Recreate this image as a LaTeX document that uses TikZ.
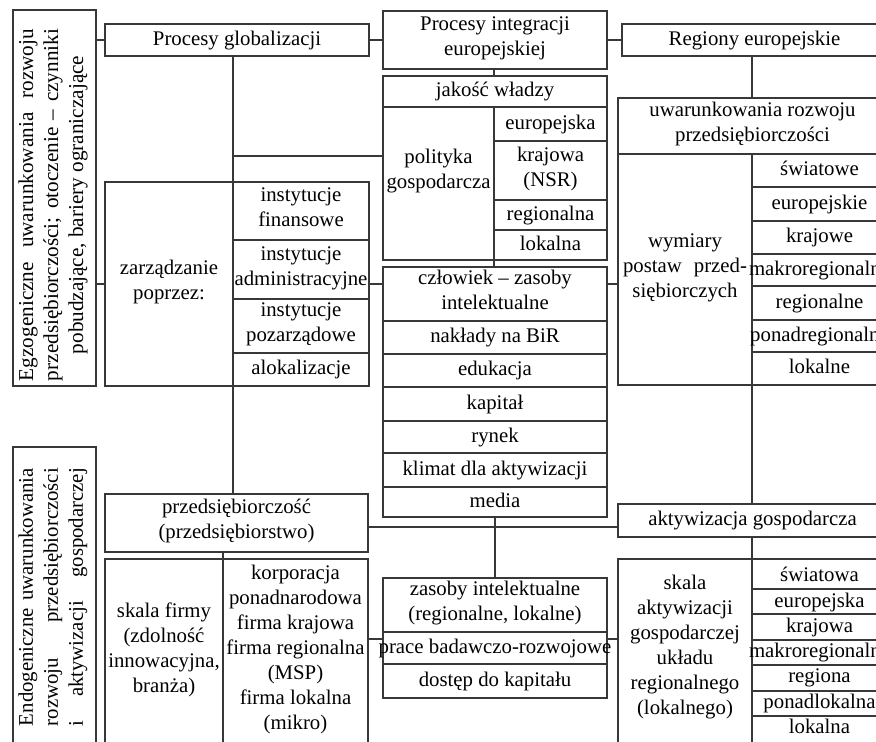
\documentclass[tikz,border=0pt]{standalone}
\usepackage{fontspec}
\setmainfont{Liberation Serif}
\usetikzlibrary{fit}
\newcommand\fs{\fontsize{20.8}{25}\selectfont}
\newcommand\fsr{\fontsize{21.2}{25}\selectfont}
\newcommand\cellbox[5]{\node[cell, fit={(#2,#3) (#4,#5)}] (#1) {};}
\tikzset{
 cell/.style={draw=black!78, line width=1.1pt, inner sep=0pt, outer sep=0pt},
 txt/.style={align=center, font=\fs, inner sep=0pt, text=black,
   execute at begin node=\strut, execute at end node=\strut},
 rtxt/.style={txt, rotate=90},
 con/.style={draw=black!78, line width=1.1pt},
}
\begin{document}
\begin{tikzpicture}[x=1pt,y=-1pt]
\useasboundingbox (0,0) rectangle (876,742);
\clip (0,0) rectangle (876,742);
% ---------- cells
\cellbox{egz}{13}{10}{96}{386}
\cellbox{glob}{105}{24}{369}{56}
\cellbox{integ}{383}{11}{607}{69}
\cellbox{reg}{622}{24}{887}{56}
\cellbox{jak}{383}{76}{607}{107}
\cellbox{pol}{383}{107}{494}{260}
\cellbox{polA}{494}{107}{607}{141}
\cellbox{polB}{494}{141}{607}{200}
\cellbox{polC}{494}{200}{607}{230}
\cellbox{polD}{494}{230}{607}{260}
\cellbox{uwar}{618}{98}{887}{154}
\cellbox{wym}{618}{154}{752}{385}
\cellbox{wymA}{752}{154}{887}{187}
\cellbox{wymB}{752}{187}{887}{221}
\cellbox{wymC}{752}{221}{887}{254}
\cellbox{wymD}{752}{254}{887}{286}
\cellbox{wymE}{752}{286}{887}{320}
\cellbox{wymF}{752}{320}{887}{352}
\cellbox{wymG}{752}{352}{887}{385}
\cellbox{zarz}{105}{182}{233}{386}
\cellbox{zarzA}{233}{182}{369}{240}
\cellbox{zarzB}{233}{240}{369}{299}
\cellbox{zarzC}{233}{299}{369}{353}
\cellbox{zarzD}{233}{353}{369}{386}
\cellbox{czl}{383}{267}{607}{321}
\cellbox{czlA}{383}{321}{607}{354}
\cellbox{czlB}{383}{354}{607}{387}
\cellbox{czlC}{383}{387}{607}{421}
\cellbox{czlD}{383}{421}{607}{453}
\cellbox{czlE}{383}{453}{607}{487}
\cellbox{czlF}{383}{487}{607}{517}
\cellbox{endo}{13}{447}{96}{750}
\cellbox{prz}{105}{494}{368}{552}
\cellbox{sf}{105}{559}{223}{750}
\cellbox{sfB}{223}{559}{368}{750}
\cellbox{akt}{618}{504}{887}{537}
\cellbox{zas}{383}{578}{607}{632}
\cellbox{zasB}{383}{632}{607}{664}
\cellbox{zasC}{383}{664}{607}{698}
\cellbox{sa}{618}{559}{752}{750}
\cellbox{saA}{752}{559}{887}{589}
\cellbox{saB}{752}{589}{887}{614}
\cellbox{saC}{752}{614}{887}{640}
\cellbox{saD}{752}{640}{887}{665}
\cellbox{saE}{752}{665}{887}{691}
\cellbox{saF}{752}{691}{887}{716}
\cellbox{saG}{752}{716}{887}{750}
% ---------- connectors
\coordinate (jpol) at (233,156);
\coordinate (jakt) at (0,527);
\coordinate (jsa) at (0,639);
\draw[con] (egz.east |- glob.west) -- (glob.west);
\draw[con] (glob.east) -- (integ.west |- glob.east);
\draw[con] (integ.east |- reg.west) -- (reg.west);
\draw[con] (zarz.north east |- glob.south) -- (zarz.north east);
\draw[con] (jpol) -- (jpol -| pol.west);
\draw[con] (integ.south -| pol.east) -- (jak.north -| pol.east);
\draw[con] (pol.south east) -- (czl.north -| pol.south east);
\draw[con] (reg.south -| wym.east) -- (uwar.north -| wym.east);
\draw[con] (egz.east |- zarz.west) -- (zarz.west);
\draw[con] (zarzB.east |- zarz.west) -- (czl.west |- zarz.west);
\draw[con] (czl.east |- zarz.west) -- (wym.west |- zarz.west);
\draw[con] (zarz.south east) -- (prz.north -| zarz.south east);
\draw[con] (wym.south east) -- (akt.north -| wym.south east);
\draw[con] (czlF.south) -- (zas.north);
\draw[con] (prz.east |- jakt) -- (akt.west |- jakt);
\draw[con] (prz.south -| sf.east) -- (sf.north east);
\draw[con] (akt.south -| sa.east) -- (sa.north east);
\draw[con] (sfB.east |- jsa) -- (zas.west |- jsa);
\draw[con] (zasB.east |- jsa) -- (sa.west |- jsa);
% ---------- texts
\node[rtxt, font=\fsr] (egz-t) at (54.5,205) {\makebox[352pt][s]{Egzogeniczne uwarunkowania rozwoju}\\\makebox[352pt][s]{przedsiębiorczości; otoczenie – czynniki}\\pobudzające, bariery ograniczające};
\node[rtxt] (endo-t) at (54.5,597) {\makebox[258pt][s]{Endogeniczne uwarunkowania}\\\makebox[258pt][s]{rozwoju przedsiębiorczości}\\\makebox[258pt][s]{i aktywizacji gospodarczej}};
\node[txt] (glob-t) at (glob) {Procesy globalizacji};
\node[txt] (integ-t) at (integ) {Procesy integracji\\europejskiej};
\node[txt] (reg-t) at (reg) {Regiony europejskie};
\node[txt] (jak-t) at (jak) {jakość władzy};
\node[txt] (pol-t) at (438.5,173) {polityka\\gospodarcza};
\node[txt] (polA-t) at (polA) {europejska};
\node[txt] (polB-t) at (polB) {krajowa\\(NSR)};
\node[txt] (polC-t) at (polC) {regionalna};
\node[txt] (polD-t) at (polD) {lokalna};
\node[txt] (uwar-t) at (uwar) {uwarunkowania rozwoju\\przedsiębiorczości};
\node[txt] (wym-t) at (wym) {wymiary\\\makebox[124pt][s]{postaw przed-}\\siębiorczych};
\node[txt] (wymA-t) at (wymA) {światowe};
\node[txt] (wymB-t) at (wymB) {europejskie};
\node[txt] (wymC-t) at (wymC) {krajowe};
\node[txt] (wymD-t) at (wymD) {makroregionalne};
\node[txt] (wymE-t) at (wymE) {regionalne};
\node[txt] (wymF-t) at (wymF) {ponadregionalne};
\node[txt] (wymG-t) at (wymG) {lokalne};
\node[txt] (zarz-t) at (zarz) {zarządzanie\\poprzez:};
\node[txt] (zarzA-t) at (zarzA) {instytucje\\finansowe};
\node[txt] (zarzB-t) at (zarzB) {instytucje\\administracyjne};
\node[txt] (zarzC-t) at (zarzC) {instytucje\\pozarządowe};
\node[txt] (zarzD-t) at (zarzD) {alokalizacje};
\node[txt] (czl-t) at (czl) {człowiek – zasoby\\intelektualne};
\node[txt] (czlA-t) at (czlA) {nakłady na BiR};
\node[txt] (czlB-t) at (czlB) {edukacja};
\node[txt] (czlC-t) at (czlC) {kapitał};
\node[txt] (czlD-t) at (czlD) {rynek};
\node[txt] (czlE-t) at (czlE) {klimat dla aktywizacji};
\node[txt] (czlF-t) at (czlF) {media};
\node[txt] (prz-t) at (prz) {przedsiębiorczość\\(przedsiębiorstwo)};
\node[txt] (sf-t) at (164,651) {skala firmy\\(zdolność\\innowacyjna,\\branża)};
\node[txt] (sfB-t) at (295.5,651) {korporacja\\ponadnarodowa\\firma krajowa\\firma regionalna\\(MSP)\\firma lokalna\\(mikro)};
\node[txt] (akt-t) at (akt) {aktywizacja gospodarcza};
\node[txt] (zas-t) at (zas) {zasoby intelektualne\\(regionalne, lokalne)};
\node[txt] (zasB-t) at (zasB) {prace badawczo-rozwojowe};
\node[txt] (zasC-t) at (zasC) {dostęp do kapitału};
\node[txt] (sa-t) at (685,649) {skala\\aktywizacji\\gospodarczej\\układu\\regionalnego\\(lokalnego)};
\node[txt] (saA-t) at (819.5,576) {światowa};
\node[txt] (saB-t) at (819.5,602) {europejska};
\node[txt] (saC-t) at (819.5,627) {krajowa};
\node[txt] (saD-t) at (819.5,652) {makroregionalna};
\node[txt] (saE-t) at (819.5,677) {regiona};
\node[txt] (saF-t) at (819.5,703) {ponadlokalna};
\node[txt] (saG-t) at (819.5,728) {lokalna};
\end{tikzpicture}
\end{document}
